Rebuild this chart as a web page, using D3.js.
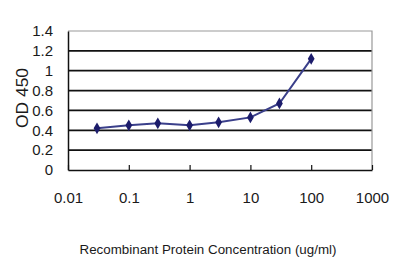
<!DOCTYPE html>
<html>
<head>
<meta charset="utf-8">
<script src="https://cdn.jsdelivr.net/npm/d3@7"></script>
<style>
  body { margin: 0; background: #fff; }
  text { font-family: "Liberation Sans", Arial, sans-serif; fill: #1a1a1a; }
</style>
</head>
<body>
<svg></svg>
<script>
var concentrations = [0.03, 0.1, 0.3, 1, 3, 10, 30, 100];
var odValues = [0.42, 0.45, 0.47, 0.45, 0.48, 0.53, 0.67, 1.12];
var xTicks = [0.01, 0.1, 1, 10, 100, 1000];
var yTicks = [0, 0.2, 0.4, 0.6, 0.8, 1, 1.2, 1.4];

var svgWidth = 400, svgHeight = 267;
var svg = d3.select("svg")
    .attr("width", svgWidth)
    .attr("height", svgHeight);

var plotLeft = 68, plotRight = 372, plotTop = 31, plotBottom = 170;

var xScale = d3.scaleLog().domain([0.01, 1000]).range([plotLeft, plotRight]),
    yScale = d3.scaleLinear().domain([0, 1.4]).range([plotBottom, plotTop]);

// gridlines
svg.append("g")
    .selectAll("line")
    .data(yTicks.filter(function (d) { return d > 0 && d < 1.4; }))
    .enter()
    .append("line")
    .attr("x1", plotLeft)
    .attr("x2", plotRight)
    .attr("y1", function (d) { return yScale(d); })
    .attr("y2", function (d) { return yScale(d); })
    .style("stroke", "#111")
    .style("stroke-width", 1.8);

// plot border top/right
svg.append("path")
    .attr("d", "M" + plotLeft + "," + plotTop + "H" + plotRight + "V" + plotBottom)
    .style("fill", "none")
    .style("stroke", "#999")
    .style("stroke-width", 1.2);

// y axis
var yAxis = svg.append("g")
    .attr("transform", "translate(" + plotLeft + ",0)")
    .call(d3.axisLeft(yScale).tickValues(yTicks).tickSize(0).tickPadding(15)
        .tickFormat(function (d) { return String(+d.toFixed(1)); }));
yAxis.select(".domain").style("stroke", "#111").style("stroke-width", 1.5);
yAxis.selectAll("text")
    .style("font-size", "15px")
    .style("font-family", "Liberation Sans, Arial, sans-serif")
    .style("fill", "#1a1a1a");

// x axis
var xAxis = svg.append("g")
    .attr("transform", "translate(0," + plotBottom + ")")
    .call(d3.axisBottom(xScale).tickValues(xTicks).tickSizeInner(-5).tickSizeOuter(0).tickPadding(22)
        .tickFormat(function (d) { return String(d); }));
xAxis.select(".domain").style("stroke", "#111").style("stroke-width", 1.5);
xAxis.selectAll(".tick line").style("stroke", "#111").style("stroke-width", 1.2);
xAxis.selectAll("text")
    .style("font-size", "15px")
    .style("font-family", "Liberation Sans, Arial, sans-serif")
    .style("fill", "#1a1a1a");

// y label
svg.append("text")
    .attr("text-anchor", "middle")
    .attr("transform", "translate(28,98)rotate(-90)")
    .attr("textLength", 60)
    .attr("lengthAdjust", "spacingAndGlyphs")
    .style("font-size", "16px")
    .text("OD 450");

// x label
svg.append("text")
    .attr("x", 208)
    .attr("y", 254)
    .attr("text-anchor", "middle")
    .attr("textLength", 257)
    .attr("lengthAdjust", "spacingAndGlyphs")
    .style("font-size", "12px")
    .text("Recombinant Protein Concentration (ug/ml)");

// line
var line = d3.line()
    .x(function (d, i) { return xScale(concentrations[i]); })
    .y(function (d) { return yScale(d); });

svg.append("path")
    .datum(odValues)
    .attr("d", line)
    .style("fill", "none")
    .style("stroke", "#3a3f8a")
    .style("stroke-width", 2);

// markers
svg.append("g")
    .selectAll("path")
    .data(odValues)
    .enter()
    .append("path")
    .attr("d", d3.symbol().type(d3.symbolDiamond).size(40))
    .attr("transform", function (d, i) {
        return "translate(" + xScale(concentrations[i]) + "," + yScale(d) + ")";
    })
    .style("fill", "#1c1c6b");
</script>
</body>
</html>
